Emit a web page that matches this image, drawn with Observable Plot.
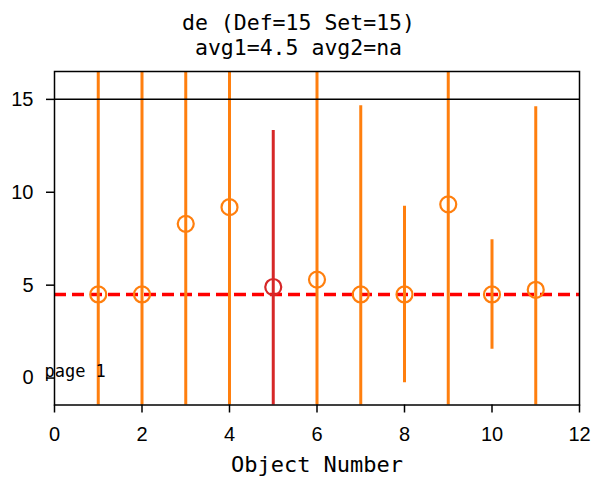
<!DOCTYPE html>
<html>
<head>
<meta charset="utf-8">
<script src="https://cdn.jsdelivr.net/npm/d3@7"></script>
<script src="https://cdn.jsdelivr.net/npm/@observablehq/plot@0.6"></script>
<style>
  body { margin: 0; background: white; }
  #title { width: 597px; height: 52px; padding-top: 10px; text-align: center;
           font-family: "DejaVu Sans Mono", monospace; font-size: 21.5px; line-height: 25px; color: black; }
  #title div { white-space: pre; }
</style>
</head>
<body>
<div id="title"><div>de (Def=15 Set=15)</div><div>avg1=4.5 avg2=na</div></div>
<div id="chart"></div>
<script>
const objects = [1, 2, 3, 4, 5, 6, 7, 8, 9, 10, 11];
const values  = [4.5, 4.5, 8.3, 9.2, 4.9, 5.3, 4.5, 4.5, 9.35, 4.5, 4.75];
const errors  = [13, 13, 13, 13, 8.43, 13, 10.15, 4.75, 13, 2.95, 9.85];
const colors  = ["#ff7f0e", "#ff7f0e", "#ff7f0e", "#ff7f0e", "#d62728", "#ff7f0e",
                 "#ff7f0e", "#ff7f0e", "#ff7f0e", "#ff7f0e", "#ff7f0e"];
const setValue = 15;
const avg1 = 4.5;
const xTicks = [0, 2, 4, 6, 8, 10, 12];
const yTicks = [0, 5, 10, 15];
const xLabel = "Object Number";
const pageLabel = "page 1";

const data = objects.map((o, i) => ({
  x: o, y: values[i], lo: values[i] - errors[i], hi: values[i] + errors[i], c: colors[i]
}));

const chart = Plot.plot({
  width: 597,
  height: 418,
  marginLeft: 54,
  marginRight: 18,
  marginTop: 9,
  marginBottom: 75.5,
  style: { background: "white", overflow: "visible" },
  x: { domain: [0, 12] },
  y: { domain: [-1.45, 16.5] },
  marks: [
    Plot.ruleY([avg1], { stroke: "#ff0000", strokeWidth: 3.5, strokeDasharray: "12,6" }),
    Plot.ruleX(data, { x: "x", y1: "lo", y2: "hi", stroke: "c", strokeWidth: 3, clip: true }),
    Plot.ruleY([setValue], { stroke: "black", strokeWidth: 1.5 }),
    Plot.dot(data, { x: "x", y: "y", r: 8, stroke: "c", strokeWidth: 2.2, fill: "none" }),
    Plot.frame({ stroke: "black", strokeWidth: 1.5 }),
    Plot.axisX({ ticks: xTicks, tickSize: 8, tickPadding: 14, fontSize: 20,
                 fontFamily: "Liberation Sans, Arial, sans-serif", label: null,
                 stroke: "black", strokeWidth: 1.5, tickFormat: d => String(d) }),
    Plot.axisY({ ticks: yTicks, tickSize: 8, tickPadding: 13, fontSize: 20,
                 fontFamily: "Liberation Sans, Arial, sans-serif", label: null,
                 stroke: "black", strokeWidth: 1.5, tickFormat: d => String(d) }),
    Plot.text([xLabel], { frameAnchor: "bottom", dy: 67, lineAnchor: "bottom",
                 fontSize: 22, fontFamily: "DejaVu Sans Mono, monospace", fill: "black" }),
    Plot.text([pageLabel], { x: () => -0.23, y: () => 0, textAnchor: "start", lineAnchor: "middle",
                 dy: -7, fontSize: 17, fontFamily: "DejaVu Sans Mono, monospace", fill: "black" })
  ]
});
document.getElementById("chart").appendChild(chart);
</script>
</body>
</html>
